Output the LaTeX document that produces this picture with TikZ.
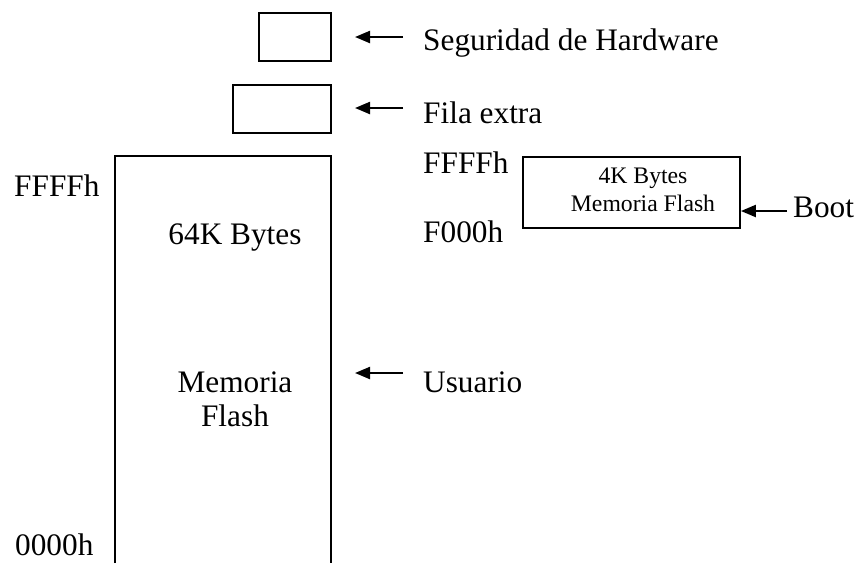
\documentclass[tikz,border=0pt]{standalone}
\usepackage{fontspec}
\setmainfont{Liberation Serif}
\usetikzlibrary{arrows.meta}
\tikzset{
  frame/.style={draw=black, line width=1.8pt},
  lbl/.style={inner sep=0pt, anchor=base west, font=\fontsize{31.3}{35}\selectfont},
  ctr/.style={inner sep=0pt, align=center, font=\fontsize{31.3}{35}\selectfont},
  small/.style={inner sep=0pt, align=center, font=\fontsize{23.7}{28}\selectfont},
  arr/.style={line width=2.2pt, -{Triangle[length=15pt,width=12pt]}},
}
\begin{document}
\begin{tikzpicture}[x=1pt,y=-1pt]
\useasboundingbox (0,0) rectangle (867,563);

% small boxes at the top
\draw[frame] (259,13) rectangle (331,61);
\coordinate (segbox) at (331,37);
\draw[frame] (233,85) rectangle (331,133);
\coordinate (filabox) at (331,109);

% main flash block, open at the bottom
\draw[frame] (115,563) -- (115,156) -- (331,156) -- (331,563);
\coordinate (mainbox) at (331,373);

% boot block
\node[frame, minimum width=217pt, minimum height=71pt, inner sep=0pt] (boot) at (631.5,192.5) {};
\node[small] (boottxt) at (643,190) {4K Bytes\\Memoria Flash};

% labels
\node[lbl] (seg) at (423,50) {Seguridad de Hardware};
\node[lbl] (fila) at (423,123) {Fila extra};
\node[lbl] (usu) at (423,392) {Usuario};
\node[lbl] (bootl) at (793,217) {Boot};

\node[lbl] (ffffl) at (14,196) {FFFFh};
\node[lbl] (zero) at (15,555) {0000h};
\node[lbl] (ffffr) at (423,173) {FFFFh};
\node[lbl] (f000) at (423,242) {F000h};

\node[lbl, anchor=base] (size) at (235,244) {64K Bytes};
\node[ctr, anchor=base] (mem) at (235,392) {Memoria};
\node[ctr, anchor=base] (flash) at (235,426) {Flash};

% pointer arrows
\coordinate (a1s) at (403,37);  \coordinate (a1e) at (355,37);
\coordinate (a2s) at (403,108); \coordinate (a2e) at (355,108);
\coordinate (a3s) at (403,373); \coordinate (a3e) at (355,373);
\coordinate (a4s) at (787,211);
\draw[arr] (a1s) -- (a1e);
\draw[arr] (a2s) -- (a2e);
\draw[arr] (a3s) -- (a3e);
\draw[arr] (a4s) -- (boot.east |- a4s);
\end{tikzpicture}
\end{document}
